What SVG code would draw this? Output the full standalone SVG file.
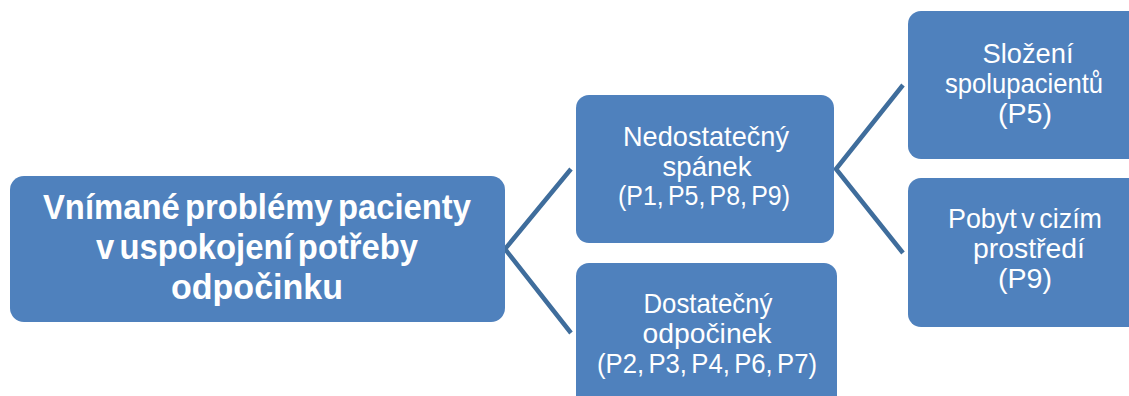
<svg xmlns="http://www.w3.org/2000/svg" width="1129" height="396" viewBox="0 0 1129 396">
  <style>
    .box { fill: #4F81BD; }
    .lbl { fill: #FFFFFF; font-family: "Liberation Sans", Arial, sans-serif; font-size: 28px; text-anchor: middle; word-spacing: -3px; }
    .main { fill: #FFFFFF; font-family: "Liberation Sans", Arial, sans-serif; font-size: 35px; font-weight: bold; text-anchor: middle; word-spacing: -4px; }
    .link { fill: none; stroke: #3F6D9C; stroke-width: 4.5; stroke-linejoin: miter; }
  </style>

  <!-- connectors -->
  <g id="connectors">
    <polyline class="link" points="571,169 505,249 571,333"/>
    <polyline class="link" points="903,85 836,169 903,253"/>
  </g>

  <!-- root -->
  <g id="root">
    <rect class="box" x="10" y="176" width="495" height="146" rx="14"/>
    <text class="main" x="257" y="219" textLength="428" lengthAdjust="spacingAndGlyphs">Vnímané problémy pacienty</text>
    <text class="main" x="257" y="259" textLength="322" lengthAdjust="spacingAndGlyphs">v uspokojení potřeby</text>
    <text class="main" x="257" y="299" textLength="172" lengthAdjust="spacingAndGlyphs">odpočinku</text>
  </g>

  <!-- first level -->
  <g id="nedostatecny">
    <rect class="box" x="576" y="95" width="258" height="148" rx="13"/>
    <text class="lbl" x="706" y="146" textLength="166" lengthAdjust="spacingAndGlyphs">Nedostatečný</text>
    <text class="lbl" x="707" y="176" textLength="89" lengthAdjust="spacingAndGlyphs">spánek</text>
    <text class="lbl" x="704" y="205" textLength="172" lengthAdjust="spacingAndGlyphs">(P1, P5, P8, P9)</text>
  </g>
  <g id="dostatecny">
    <rect class="box" x="576" y="263" width="261" height="160" rx="13"/>
    <text class="lbl" x="708" y="313" textLength="129" lengthAdjust="spacingAndGlyphs">Dostatečný</text>
    <text class="lbl" x="707" y="343" textLength="129" lengthAdjust="spacingAndGlyphs">odpočinek</text>
    <text class="lbl" x="707" y="373" textLength="220" lengthAdjust="spacingAndGlyphs">(P2, P3, P4, P6, P7)</text>
  </g>

  <!-- second level -->
  <g id="slozeni">
    <rect class="box" x="908" y="11" width="240" height="148" rx="13"/>
    <text class="lbl" x="1028" y="63" textLength="91" lengthAdjust="spacingAndGlyphs">Složení</text>
    <text class="lbl" x="1024" y="93" textLength="158" lengthAdjust="spacingAndGlyphs">spolupacientů</text>
    <text class="lbl" x="1025" y="123" textLength="54" lengthAdjust="spacingAndGlyphs">(P5)</text>
  </g>
  <g id="pobyt">
    <rect class="box" x="908" y="178" width="240" height="149" rx="13"/>
    <text class="lbl" x="1025" y="228" textLength="154" lengthAdjust="spacingAndGlyphs">Pobyt v cizím</text>
    <text class="lbl" x="1029" y="258" textLength="112" lengthAdjust="spacingAndGlyphs">prostředí</text>
    <text class="lbl" x="1025" y="288" textLength="54" lengthAdjust="spacingAndGlyphs">(P9)</text>
  </g>
</svg>
